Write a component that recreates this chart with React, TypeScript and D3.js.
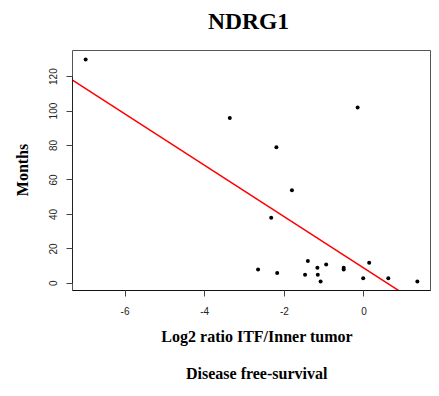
import React from "react";
import * as d3 from "d3";

const ratioValues: number[] = [-6.99, -3.37, -0.16, -2.2, -1.81, -2.33, -2.66, -2.18, -1.41, -1.48, -1.17, -1.16, -1.09, -0.95, -0.51, -0.51, -0.02, 0.13, 0.61, 1.34];
const monthValues: number[] = [130, 96, 102, 79, 54, 38, 8, 6, 13, 5, 9, 5, 1, 11, 9, 8, 3, 12, 3, 1];
const xTicks: number[] = [-6, -4, -2, 0];
const yTicks: number[] = [0, 20, 40, 60, 80, 100, 120];
const fitIntercept = 8.8;
const fitSlope = -14.91;

const W = 439;
const H = 396;
const left = 72.5, right = 430.5, top = 50.5, bottom = 290.5;

export default function App() {
  const x = d3.scaleLinear().domain([-7.32, 1.67]).range([left, right]);
  const y = d3.scaleLinear().domain([-4.16, 135.16]).range([bottom, top]);
  const xd = x.domain();
  const line = d3.line<number>().x((v) => x(v)).y((v) => y(fitIntercept + fitSlope * v));
  const serif = "'Liberation Serif', 'Times New Roman', serif";
  const sans = "'Liberation Sans', Arial, sans-serif";
  const px = (v: number) => Math.round(v - 0.5) + 0.5;
  const boxPath = `M${left},${top}H${right}V${bottom}H${left}Z`;
  const xTickPath = xTicks.map((t) => `M${px(x(t))},${bottom}V${bottom + 6}`).join("");
  const yTickPath = yTicks.map((t) => `M${left - 6},${px(y(t))}H${left}`).join("");
  return (
    <svg width={W} height={H} style={{ position: "absolute", left: 0, top: 0, background: "#fff" }}>
      <defs>
        <clipPath id="plotclip">
          <rect x={left} y={top} width={right - left} height={bottom - top} />
        </clipPath>
      </defs>
      <rect x={0} y={0} width={W} height={H} fill="#fff" />
      <text x={248.5} y={29} textAnchor="middle" fontFamily={serif} fontWeight="bold" fontSize={23.5} fill="#000">NDRG1</text>
      <path d={line(xd) || ""} fill="none" stroke="#ff0000" strokeWidth={1.5} clipPath="url(#plotclip)" />
      <path d={boxPath} fill="none" stroke="#555555" strokeWidth={1} />
      <path d={`M${left},${bottom}H${right}`} fill="none" stroke="#111111" strokeWidth={1} />
      <path d={`M${left},${px(y(0))}V${px(y(120))}`} fill="none" stroke="#222222" strokeWidth={1} />
      <path d={xTickPath} fill="none" stroke="#444444" strokeWidth={1} />
      <path d={yTickPath} fill="none" stroke="#444444" strokeWidth={1} />
      {xTicks.map((t) => (
        <text key={"x" + t} x={x(t)} y={315} textAnchor="middle" fontFamily={sans} fontSize={10} fill="#222222">{t}</text>
      ))}
      {yTicks.map((t) => (
        <text key={"y" + t} transform={`translate(57,${y(t)}) rotate(-90)`} textAnchor="middle" fontFamily={sans} fontSize={10} fill="#222222">{t}</text>
      ))}
      {ratioValues.map((v, i) => (
        <circle key={i} cx={x(v)} cy={y(monthValues[i])} r={2} fill="#000" />
      ))}
      <text transform={`translate(27.5,170) rotate(-90)`} textAnchor="middle" fontFamily={serif} fontWeight="bold" fontSize={16} fill="#000">Months</text>
      <text x={257} y={342} textAnchor="middle" fontFamily={serif} fontWeight="bold" fontSize={16} fill="#000">Log2 ratio ITF/Inner tumor</text>
      <text x={256.7} y={379} textAnchor="middle" fontFamily={serif} fontWeight="bold" fontSize={16} fill="#000">Disease free-survival</text>
    </svg>
  );
}
